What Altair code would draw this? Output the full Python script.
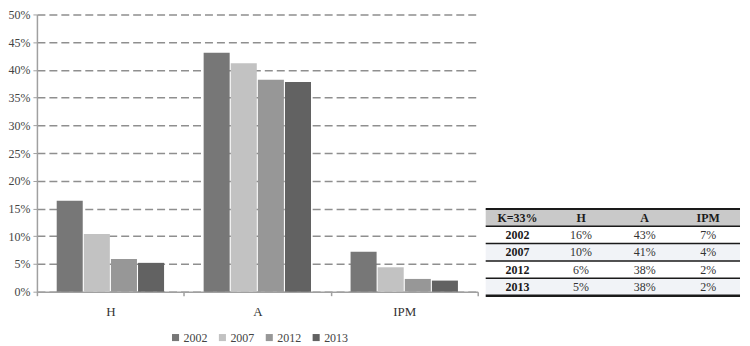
import altair as alt
import pandas as pd

categories = ["H", "A", "IPM"]
years = ["2002", "2007", "2012", "2013"]
values_2002 = [0.164, 0.431, 0.072]
values_2007 = [0.104, 0.412, 0.044]
values_2012 = [0.059, 0.382, 0.023]
values_2013 = [0.052, 0.378, 0.020]
bar_colors = ["#777777", "#c2c2c2", "#979797", "#626262"]
y_ticks = [0.0, 0.05, 0.10, 0.15, 0.20, 0.25, 0.30, 0.35, 0.40, 0.45, 0.50]

table_header = ["K=33%", "H", "A", "IPM"]
table_years = ["2002", "2007", "2012", "2013"]
table_h = ["16%", "10%", "6%", "5%"]
table_a = ["43%", "41%", "38%", "38%"]
table_ipm = ["7%", "4%", "2%", "2%"]

FONT = "Liberation Serif"

# ---- bar chart data
series = [values_2002, values_2007, values_2012, values_2013]
bar_rows = []
for yi, yr in enumerate(years):
    for ci, cat in enumerate(categories):
        bar_rows.append({"category": cat, "year": yr, "value": series[yi][ci]})
bars_df = pd.DataFrame(bar_rows)

bars = alt.Chart(bars_df).mark_bar().encode(
    x=alt.X(
        "category:N",
        sort=categories,
        scale=alt.Scale(paddingInner=0, paddingOuter=0),
        axis=alt.Axis(
            title=None, labelAngle=0, tickBand="extent", grid=False,
            domainColor="#a0a0a0", domainWidth=1.5, tickColor="#a0a0a0",
            tickSize=4, tickWidth=1.5, labelFont=FONT, labelFontSize=13,
            labelColor="#333333", labelPadding=10,
        ),
    ),
    xOffset=alt.XOffset(
        "year:N", sort=years,
        scale=alt.Scale(paddingInner=0.04, paddingOuter=0.73),
    ),
    y=alt.Y(
        "value:Q",
        scale=alt.Scale(domain=[0, 0.5], nice=False),
        axis=alt.Axis(
            title=None, values=y_ticks, format=".0%", grid=True,
            gridDash=[8, 4], gridColor="#8f8f8f", gridWidth=1.5,
            domainColor="#a0a0a0", domainWidth=1.5, tickColor="#a0a0a0",
            tickSize=4, tickWidth=1, labelFont=FONT, labelFontSize=12,
            labelColor="#444444", labelPadding=3,
        ),
    ),
    color=alt.Color(
        "year:N",
        scale=alt.Scale(domain=years, range=bar_colors),
        legend=alt.Legend(
            title=None, orient="none", direction="horizontal",
            legendX=133, legendY=318, symbolType="square", symbolSize=50,
            symbolStrokeWidth=0, labelFont=FONT, labelFontSize=12,
            labelColor="#444444", columnPadding=9, labelOffset=2,
        ),
    ),
).properties(width=442, height=278)

# ---- table data
ncols = len(table_header)
nrows = len(table_years) + 1
cells = []
for c, txt in enumerate(table_header):
    cells.append({"col": c + 0.5, "row": 0.5, "text": txt, "bold": True})
for r, yr in enumerate(table_years):
    vals = [yr, table_h[r], table_a[r], table_ipm[r]]
    for c, txt in enumerate(vals):
        cells.append({"col": c + 0.5, "row": r + 1.5, "text": txt, "bold": c == 0})
cells_df = pd.DataFrame(cells)

bg_rows = []
for r in range(nrows):
    kind = "header" if r == 0 else ("shade" if r % 2 == 0 else "plain")
    bg_rows.append({"r0": r, "r1": r + 1, "c0": 0, "c1": ncols, "kind": kind})
bg_df = pd.DataFrame(bg_rows)

outer_df = pd.DataFrame({"r": [0, nrows], "c0": [0, 0], "c1": [ncols, ncols], "w": [2.0, 2.5]})
inner_df = pd.DataFrame({"r": list(range(1, nrows)), "c0": [0] * (nrows - 1), "c1": [ncols] * (nrows - 1)})

tx = alt.Scale(domain=[0, ncols])
ty = alt.Scale(domain=[0, nrows], range=[195, 282])

bg = alt.Chart(bg_df).mark_rect().encode(
    x=alt.X("c0:Q", scale=tx, axis=None),
    x2="c1:Q",
    y=alt.Y("r0:Q", scale=ty, axis=None),
    y2="r1:Q",
    color=alt.Color(
        "kind:N",
        scale=alt.Scale(domain=["header", "shade", "plain"], range=["#c9c9c9", "#f1f3f7", "#ffffff"]),
        legend=None,
    ),
)

outer = alt.Chart(outer_df).mark_rule(color="#1a1a1a").encode(
    x=alt.X("c0:Q", scale=tx, axis=None),
    x2="c1:Q",
    y=alt.Y("r:Q", scale=ty, axis=None),
    strokeWidth=alt.StrokeWidth("w:Q", scale=None),
)
inner = alt.Chart(inner_df).mark_rule(color="#1a1a1a", strokeWidth=1.5).encode(
    x=alt.X("c0:Q", scale=tx, axis=None),
    x2="c1:Q",
    y=alt.Y("r:Q", scale=ty, axis=None),
)

txt_bold = alt.Chart(cells_df[cells_df["bold"]]).mark_text(
    font=FONT, fontSize=12, fontWeight="bold", color="#1a1a1a"
).encode(
    x=alt.X("col:Q", scale=tx, axis=None),
    y=alt.Y("row:Q", scale=ty, axis=None),
    text="text:N",
)
txt_norm = alt.Chart(cells_df[~cells_df["bold"]]).mark_text(
    font=FONT, fontSize=12, color="#333333"
).encode(
    x=alt.X("col:Q", scale=tx, axis=None),
    y=alt.Y("row:Q", scale=ty, axis=None),
    text="text:N",
)

table = alt.layer(bg, inner, outer, txt_bold, txt_norm).properties(width=255, height=282)

chart = alt.hconcat(bars, table, spacing=5).properties(padding=0).resolve_scale(
    color="independent"
).configure_view(stroke=None)

chart.save("out.html", embed_options={"renderer": "svg", "actions": False})
